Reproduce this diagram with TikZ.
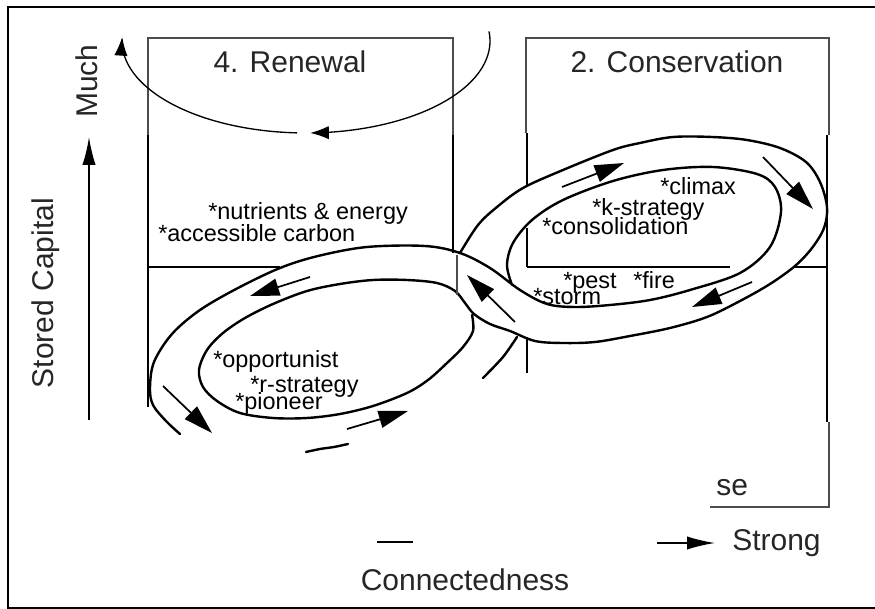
\documentclass[tikz,border=0pt]{standalone}
\usepackage{fontspec}
\setmainfont{Liberation Sans}
\usetikzlibrary{arrows.meta}

\begin{document}
\begin{tikzpicture}[x=0.75pt,y=-0.75pt,
  frame/.style={line width=1.5pt},
  faint/.style={line width=1.1pt, black!70},
  wall/.style={line width=1.5pt},
  band/.style={line width=1.8pt, line join=round, line cap=round},
  flow/.style={-{Triangle[length=22pt,width=13pt]}, line width=1.3pt},
  backloop/.style={-{Latex[length=14pt,width=10pt]}, line width=1pt},
  axis/.style={-{Latex[length=21pt,width=10pt]}, line width=1.3pt},
  tag/.style={font=\fontsize{17.6pt}{20pt}\selectfont, inner sep=0pt, anchor=base west},
  title/.style={font=\fontsize{22.5pt}{26pt}\selectfont, inner sep=0pt, anchor=base, black!85}
]
\useasboundingbox (0,0) rectangle (875,609);
\draw[frame] (875,7) -- (8,7) -- (8,607.5) -- (875,607.5);

% phase boxes
\draw[faint] (148,135) -- (148,38) -- (453,38) -- (453,135);
\draw[wall] (148,135) -- (148,407) (453,135) -- (453,253) (148,267) -- (280,267);
\draw[faint] (526,133) -- (526,38) -- (829,38) -- (829,135);
\draw[wall] (527,133) -- (527,187) (527,228) -- (527,267) (527,337) -- (527,373)
  (827,135) -- (827,422) (527,267) -- (730,267) (793,267) -- (827,267);
\draw[faint] (829,422) -- (829,507) -- (710,507);

% titles and axes
\node[title] (renewal) at (290,73) {4. Renewal};
\node[title] (conserv) at (677,73) {2. Conservation};
\node[title, rotate=90] (much) at (97,81) {Much};
\node[title, rotate=90] (capital) at (53,293) {Stored Capital};
\node[title] (connect) at (465,590) {Connectedness};
\node[title, anchor=base west] (strong) at (732,550) {Strong};
\node[title, anchor=base west] (release) at (716,495) {se};

\coordinate (ybase) at (89,420);
\coordinate (ytip) at (89,137);
\draw[axis] (ybase) -- (ytip);
\coordinate (xtail) at (657,543);
\coordinate (xtip) at (715,543);
\draw[axis] (xtail) -- (xtip);
\coordinate (xstub) at (377,542);
\coordinate (xstubend) at (413,542);
\draw[line width=1.2pt] (xstub) -- (xstubend);

% return arc over the renewal box
\draw[backloop] plot[domain=-6:88.7, samples=50, smooth, variable=\t]
  ({306+184*cos(\t)}, {41+92*sin(\t)});
\draw[backloop] plot[domain=92.8:182.5, samples=50, smooth, variable=\t]
  ({306+184*cos(\t)}, {41+92*sin(\t)});

% figure-eight band
\draw[band] plot[smooth, tension=0.55] coordinates {
  (180,434) (166,421) (153,405) (150,388) (154,362) (172,334) (200,310)
  (238,288) (280,268) (318,256) (367,247) (425,246) (460,253) (490,268)
  (520,290) (547,304) (575,307) (610,305) (650,300) (690,290) (740,273)
  (770,247) (781,212) (775,187) (757,174) (713,167) (663,170) (613,181)
  (563,200) (532,220) (513,243) (507,265) (512,285)};
\draw[band] plot[smooth, tension=0.55] coordinates {
  (472,315) (473,331) (463,347) (447,363) (428,380) (407,393) (373,406)
  (340,414) (307,418) (273,418) (240,413) (217,401) (203,387) (199,370)
  (207,350) (223,333) (245,318) (273,304) (307,291) (340,284) (373,280)
  (407,280) (437,283) (455,291) (465,303) (474,314) (490,324) (510,331)
  (535,341) (563,343) (595,342) (630,336) (670,328) (707,317) (740,301)
  (770,284) (795,266) (812,248) (824,228) (827,207) (820,182) (806,162)
  (780,148) (747,140) (712,137) (673,137) (640,143) (613,150) (563,170)
  (523,188) (497,207) (478,225) (460,253)};
\draw[band] plot[smooth] coordinates {(517,337) (503,357) (483,378)};
\draw[band] plot[smooth] coordinates {(306,452) (320,449) (334,447) (348,444)};
\draw[faint] (457,255) -- (457,295);

% flow arrows
\draw[flow] (310,277) -- (250,296);
\draw[flow] (163,386) -- (212,433);
\draw[flow] (347,429) -- (408,411);
\draw[flow] (515,322) -- (467,275);
\draw[flow] (562,187) -- (624,163);
\draw[flow] (763,157) -- (813,209);
\draw[flow] (752,282) -- (692,307);

% traits
\node[tag] (nutri) at (208,220) {*nutrients \& energy};
\node[tag] (carbon) at (158,242) {*accessible carbon};
\node[tag] (climax) at (660,195) {*climax};
\node[tag] (kstrat) at (592,216) {*k-strategy};
\node[tag] (consol) at (542,235) {*consolidation};
\node[tag] (pest) at (563,289) {*pest};
\node[tag] (fire) at (633,289) {*fire};
\node[tag] (storm) at (533,305) {*storm};
\node[tag] (opport) at (213,368) {*opportunist};
\node[tag] (rstrat) at (250,393) {*r-strategy};
\node[tag] (pioneer) at (235,410) {*pioneer};
\end{tikzpicture}
\end{document}
